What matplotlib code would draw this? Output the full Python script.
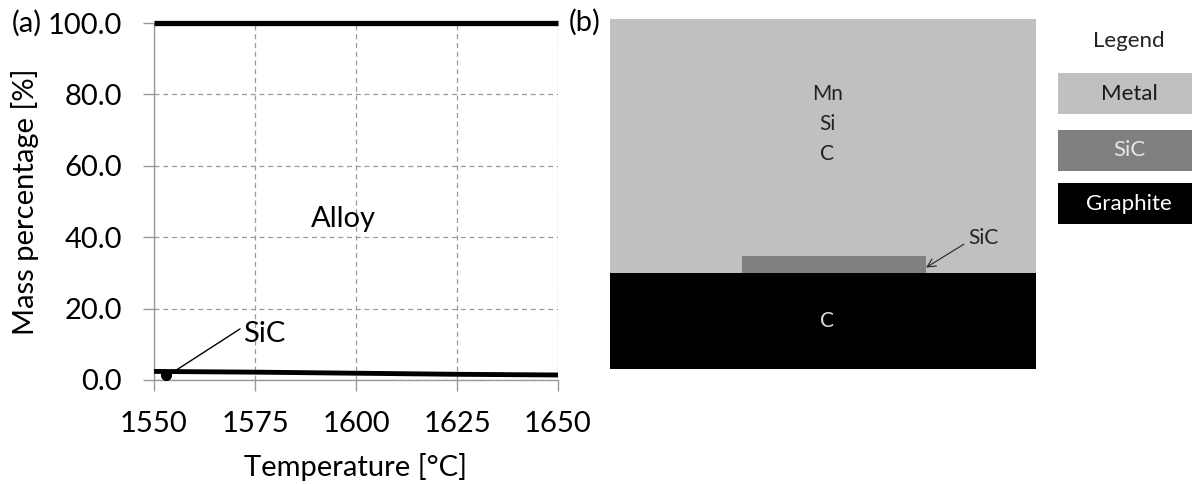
import matplotlib
matplotlib.use("Agg")
import matplotlib.pyplot as plt
from matplotlib.patches import Rectangle

plt.rcParams['font.family'] = ['Lato', 'DejaVu Sans']

# ---- panel (a) data ----
temps = [1550, 1575, 1600, 1625, 1650]
alloy_pct = [100.0, 100.0, 100.0, 100.0, 100.0]
sic_pct = [2.4, 2.2, 1.9, 1.6, 1.4]
sic_point_t = [1553]
sic_point_pct = [1.3]
y_ticks = [0, 20, 40, 60, 80, 100]

# ---- panel (b) schematic layers ----
layer_names = ['Metal', 'SiC', 'Graphite']
layer_colors = ['#c0c0c0', '#808080', '#000000']
legend_text_colors = ['#1a1a1a', '#e6e6e6', '#ffffff']
metal_elements = ['Mn', 'Si', 'C']

fig = plt.figure(figsize=(11.92, 4.84), dpi=100)
W, H = 1192, 484

def box(x0, y0, x1, y1):
    # pixel box (top-left origin) -> figure fraction
    return [x0 / W, 1 - y1 / H, (x1 - x0) / W, (y1 - y0) / H]

# ================= (a) =================
ax = fig.add_axes(box(154, 23, 558, 380))
ax.plot(temps, alloy_pct, color='black', lw=3.8, solid_capstyle='butt', clip_on=False, zorder=5)
ax.plot(temps, sic_pct, color='black', lw=3.5, solid_capstyle='butt', clip_on=False, zorder=5)
ax.plot(sic_point_t, sic_point_pct, 'o', color='black', ms=7, clip_on=False, zorder=6)
ax.set_xlim(1550, 1650)
ax.set_ylim(0, 100)
ax.set_xticks(temps)
ax.set_yticks(y_ticks)
ax.set_yticklabels([f'{v:.1f}' for v in y_ticks])
ax.grid(True, color='#9a9a9a', ls=(0, (4, 3)), lw=0.9)
for s in ['top', 'right']:
    ax.spines[s].set_visible(False)
for s in ['left', 'bottom']:
    ax.spines[s].set_color('#9a9a9a')
    ax.spines[s].set_linewidth(1.0)
ax.tick_params(axis='both', colors='#9a9a9a', labelcolor='black', labelsize=21,
               length=8, width=1.0)
ax.tick_params(axis='x', pad=14)
ax.tick_params(axis='y', pad=15)
ax.set_xlabel('Temperature [°C]', fontsize=21, labelpad=12)
ax.set_ylabel('Mass percentage [%]', fontsize=21, labelpad=6)
ax.text(1597, 45, 'Alloy', fontsize=21, ha='center', va='center')
ax.annotate('SiC', xy=(1555, 2.4), xytext=(1572, 13), fontsize=21,
            ha='left', va='center',
            arrowprops=dict(arrowstyle='-', color='black', lw=1.0, shrinkA=0, shrinkB=0,
                            relpos=(0, 0.75)))
fig.text(12 / W, 1 - 23 / H, '(a)', fontsize=21, ha='left', va='center')

# ================= (b) =================
axb = fig.add_axes(box(610, 19, 1036, 369))
axb.set_xlim(0, 1)
axb.set_ylim(0, 1)
axb.axis('off')
axb.add_patch(Rectangle((0, 0), 1, 1, color=layer_colors[0], lw=0))
axb.add_patch(Rectangle((0, 0), 1, 0.274, color=layer_colors[2], lw=0))
axb.add_patch(Rectangle((0.31, 0.274), 0.432, 0.049, color=layer_colors[1], lw=0))
for i, el in enumerate(metal_elements):
    axb.text(0.51, 0.785 - i * 0.086, el, fontsize=15, ha='center', va='center', color='#222222')
axb.text(0.51, 0.137, 'C', fontsize=15, ha='center', va='center', color='#dddddd')
axb.annotate('SiC', xy=(0.742, 0.29), xytext=(0.84, 0.375), fontsize=15,
             ha='left', va='center', color='#222222',
             arrowprops=dict(arrowstyle='->', color='#222222', lw=0.8, shrinkA=1, shrinkB=0,
                             relpos=(0, 0.3)))
fig.text(585 / W, 1 - 22 / H, '(b)', fontsize=21, ha='center', va='center')

# legend boxes
fig.text(1129 / W, 1 - 41 / H, 'Legend', fontsize=16, ha='center', va='center', color='#222222')
legend_tops = [73, 130, 183]
for name, col, tcol, top in zip(layer_names, layer_colors, legend_text_colors, legend_tops):
    lax = fig.add_axes(box(1058, top, 1192, top + 41))
    lax.set_xlim(0, 1)
    lax.set_ylim(0, 1)
    lax.axis('off')
    lax.add_patch(Rectangle((0, 0), 1, 1, color=col, lw=0))
    lax.text(0.53, 0.5, name, fontsize=16, ha='center', va='center', color=tcol)

fig.savefig('out.png', dpi=100)
